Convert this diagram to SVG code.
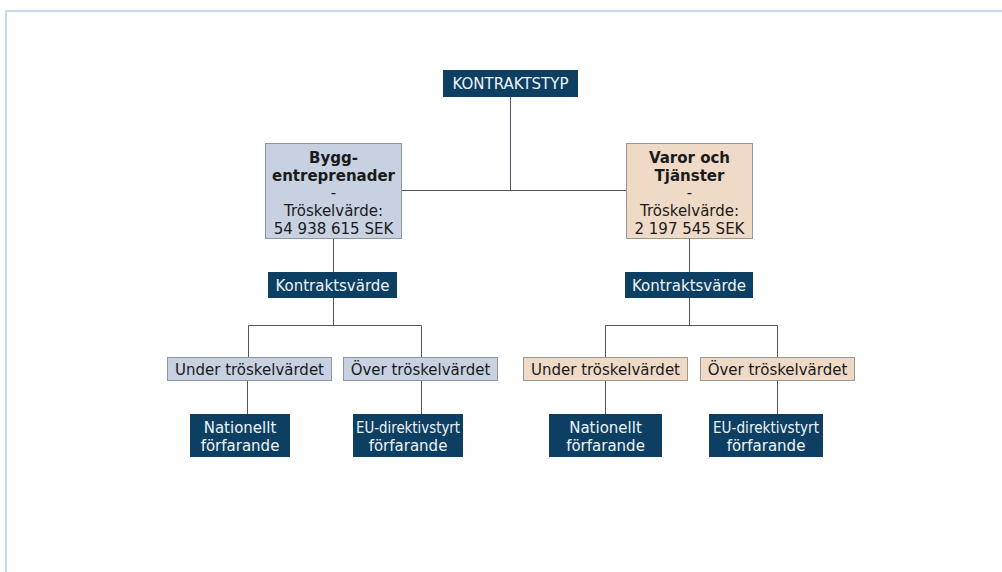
<svg xmlns="http://www.w3.org/2000/svg" width="1002" height="572" viewBox="0 0 1002 572">
<style>
.dark{fill:#0c3f62;}
.blue{fill:#c7d1e1;stroke:#8f959c;stroke-width:1;}
.beige{fill:#efdac7;stroke:#9c968f;stroke-width:1;}
.t{font-family:"DejaVu Sans",Verdana,sans-serif;font-size:15px;text-anchor:middle;}
.w{fill:#eef3f8;}
.k{fill:#1a1a1a;}
.b{font-weight:bold;}
.c{stroke:#4d5560;stroke-width:1;fill:none;}
</style>
<rect x="0" y="0" width="1002" height="572" fill="#ffffff"/>
<path d="M6 580 V11 H1002" fill="none" stroke="#c8d5ee" stroke-width="2"/>
<g id="connectors">
<path class="c" d="M510.5 97 V190.5 M401 190.5 H626"/>
<path class="c" d="M333.5 238 V272 M333.5 298 V325.5 M248.5 325.5 H421.5 M248.5 325.5 V357 M421.5 325.5 V357 M247.5 380 V414 M421.5 380 V414"/>
<path class="c" d="M689.5 238 V272 M689.5 298 V325.5 M605.5 325.5 H777.5 M605.5 325.5 V357 M777.5 325.5 V357 M605.5 380 V414 M777.5 380 V414"/>
</g>
<g id="kontraktstyp">
<rect class="dark" x="443" y="70" width="135" height="27"/>
<text class="t w" x="510.5" y="89">KONTRAKTSTYP</text>
</g>
<g id="bygg">
<rect class="blue" x="265.5" y="143.5" width="136" height="95"/>
<text class="t k" x="333.5"><tspan class="b" x="333.5" y="162.5">Bygg-</tspan><tspan class="b" x="333.5" y="180.5">entreprenader</tspan><tspan x="333.5" y="198">-</tspan><tspan x="333.5" y="215.5">Tröskelvärde:</tspan><tspan x="333.5" y="233.5">54 938 615 SEK</tspan></text>
</g>
<g id="varor">
<rect class="beige" x="626.5" y="143.5" width="126" height="95"/>
<text class="t k" x="689.5"><tspan class="b" x="689.5" y="162.5">Varor och</tspan><tspan class="b" x="689.5" y="180.5">Tjänster</tspan><tspan x="689.5" y="198">-</tspan><tspan x="689.5" y="215.5">Tröskelvärde:</tspan><tspan x="689.5" y="233.5">2 197 545 SEK</tspan></text>
</g>
<g id="kv-left">
<rect class="dark" x="268" y="272" width="129" height="26"/>
<text class="t w" x="332.5" y="290.5">Kontraktsvärde</text>
</g>
<g id="kv-right">
<rect class="dark" x="625" y="272" width="128" height="26"/>
<text class="t w" x="689" y="290.5">Kontraktsvärde</text>
</g>
<g id="under-left">
<rect class="blue" x="167.5" y="357.5" width="164" height="23"/>
<text class="t k" x="249.5" y="374.5">Under tröskelvärdet</text>
</g>
<g id="over-left">
<rect class="blue" x="343.5" y="357.5" width="154" height="23"/>
<text class="t k" x="420.5" y="374.5">Över tröskelvärdet</text>
</g>
<g id="under-right">
<rect class="beige" x="523.5" y="357.5" width="164" height="23"/>
<text class="t k" x="605.5" y="374.5">Under tröskelvärdet</text>
</g>
<g id="over-right">
<rect class="beige" x="700.5" y="357.5" width="154" height="23"/>
<text class="t k" x="777.5" y="374.5">Över tröskelvärdet</text>
</g>
<g id="nat-left">
<rect class="dark" x="190" y="414" width="100" height="43"/>
<text class="t w"><tspan x="240" y="432.5">Nationellt</tspan><tspan x="240" y="451">förfarande</tspan></text>
</g>
<g id="eu-left">
<rect class="dark" x="353" y="414" width="110" height="43"/>
<text class="t w" x="408" y="432.5" textLength="104" lengthAdjust="spacingAndGlyphs">EU-direktivstyrt</text>
<text class="t w" x="408" y="451">förfarande</text>
</g>
<g id="nat-right">
<rect class="dark" x="549" y="414" width="113" height="43"/>
<text class="t w"><tspan x="605.5" y="432.5">Nationellt</tspan><tspan x="605.5" y="451">förfarande</tspan></text>
</g>
<g id="eu-right">
<rect class="dark" x="709" y="414" width="114" height="43"/>
<text class="t w" x="766" y="432.5" textLength="106" lengthAdjust="spacingAndGlyphs">EU-direktivstyrt</text>
<text class="t w" x="766" y="451">förfarande</text>
</g>
</svg>
